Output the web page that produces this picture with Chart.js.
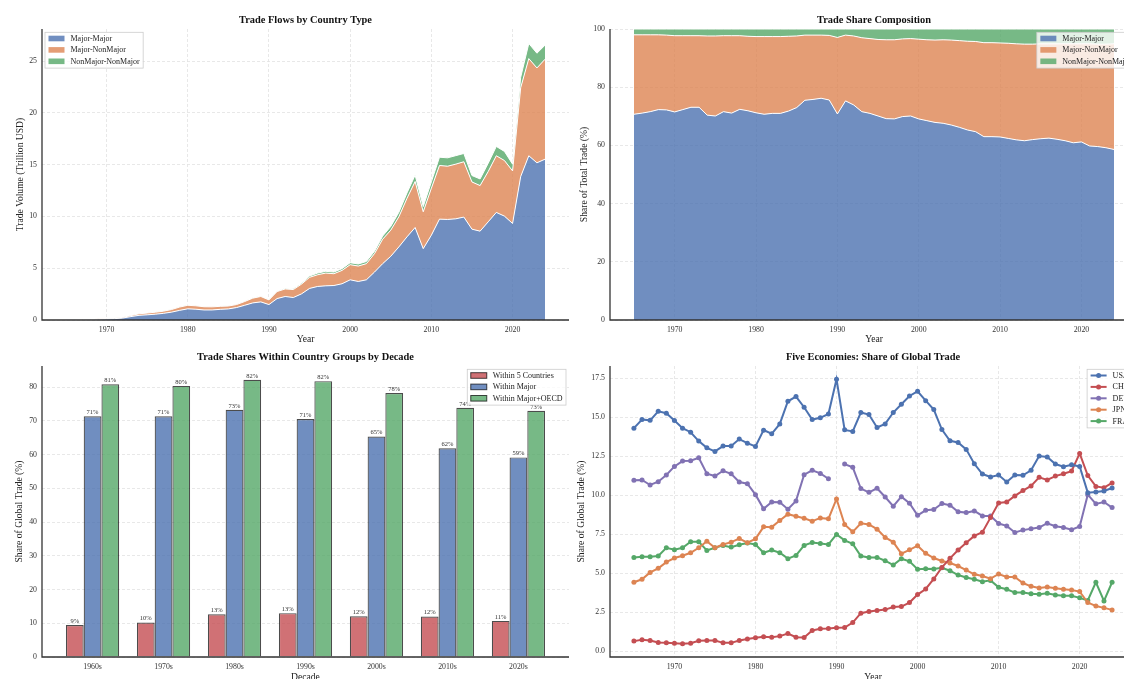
<!DOCTYPE html>
<html>
<head>
<meta charset="utf-8">
<script src="https://cdn.jsdelivr.net/npm/chart.js@4.4.1/dist/chart.umd.min.js"></script>
<style>
  html, body { margin: 0; padding: 0; background: #fff; overflow: hidden; }
  #page { position: relative; width: 1124px; height: 679px; overflow: hidden; background: #fff; }
  canvas { position: absolute; }
</style>
</head>
<body>
<div id="page">
  <canvas id="flows" width="575" height="345" style="left:0;top:0"></canvas>
  <canvas id="shares" width="575" height="345" style="left:565px;top:0"></canvas>
  <canvas id="groups" width="575" height="345" style="left:0;top:342px"></canvas>
  <canvas id="five" width="575" height="345" style="left:565px;top:342px"></canvas>
</div>
<script>
// --- data ---
const years = [1965,1966,1967,1968,1969,1970,1971,1972,1973,1974,
  1975,1976,1977,1978,1979,1980,1981,1982,1983,1984,
  1985,1986,1987,1988,1989,1990,1991,1992,1993,1994,
  1995,1996,1997,1998,1999,2000,2001,2002,2003,2004,
  2005,2006,2007,2008,2009,2010,2011,2012,2013,2014,
  2015,2016,2017,2018,2019,2020,2021,2022,2023,2024];

// trade volume, trillion USD
const flowMM = [0.03,0.04,0.05,0.06,0.08,0.10,0.13,0.19,0.33,0.45,
  0.50,0.56,0.64,0.76,0.93,1.08,1.04,0.97,0.97,1.03,
  1.07,1.20,1.42,1.65,1.75,1.49,2.07,2.27,2.17,2.52,
  3.05,3.24,3.30,3.33,3.50,3.88,3.72,3.88,4.63,5.44,
  6.15,7.06,8.03,8.93,6.89,8.19,9.74,9.71,9.77,9.94,
  8.77,8.58,9.48,10.39,10.03,9.32,13.85,15.86,15.18,15.53];
const flowMN = [0.01,0.01,0.02,0.02,0.03,0.04,0.05,0.07,0.10,0.15,
  0.17,0.19,0.21,0.25,0.32,0.34,0.33,0.31,0.30,0.29,
  0.28,0.29,0.36,0.46,0.52,0.45,0.68,0.73,0.77,0.94,
  1.07,1.13,1.23,1.14,1.29,1.46,1.49,1.56,1.78,2.36,
  2.52,2.91,3.72,4.44,3.56,4.53,5.18,5.14,5.28,5.34,
  4.56,4.40,4.86,5.47,5.37,5.08,8.58,9.38,9.16,9.65];
const flowNN = [0.001,0.001,0.002,0.002,0.002,0.003,0.004,0.005,0.01,0.01,
  0.015,0.015,0.02,0.02,0.025,0.035,0.035,0.035,0.035,0.035,
  0.035,0.03,0.04,0.04,0.045,0.05,0.06,0.07,0.08,0.10,
  0.13,0.16,0.17,0.16,0.17,0.19,0.20,0.21,0.24,0.30,
  0.37,0.43,0.52,0.62,0.50,0.62,0.80,0.81,0.82,0.80,
  0.62,0.64,0.80,0.90,0.88,0.65,1.00,1.46,1.42,1.36];

// share of total trade, %
const shareMM = [70.7,71.1,71.6,72.3,72.2,71.5,72.3,73.1,73.1,70.4,
  70.1,71.6,71.1,72.4,71.9,71.2,70.7,71.0,71.0,71.8,
  73.0,75.5,75.8,76.2,75.6,70.8,75.3,73.9,71.6,71.0,
  70.1,69.2,69.1,69.9,70.1,69.1,68.5,67.9,67.6,67.0,
  66.2,65.3,64.7,63.0,63.0,62.9,62.4,61.9,61.6,62.0,
  62.3,62.5,62.1,61.6,60.9,61.2,59.8,59.6,59.2,58.6];
const shareMN = [27.3,26.9,26.4,25.7,25.7,26.2,25.4,24.6,24.6,27.2,
  27.5,26.1,26.6,25.3,25.6,26.2,26.7,26.4,26.4,25.7,
  24.6,22.4,22.1,21.7,22.2,26.3,22.6,23.7,25.4,25.7,
  26.3,27.1,27.2,26.7,26.6,27.4,27.8,28.3,28.7,29.2,
  29.8,30.5,31.0,32.3,32.3,32.3,32.7,33.0,33.2,32.8,
  32.6,32.4,32.8,33.3,34.0,33.7,35.1,35.2,35.6,36.3];
const shareNN = [2.0,2.0,2.0,2.0,2.1,2.3,2.3,2.3,2.3,2.4,
  2.4,2.3,2.3,2.3,2.5,2.6,2.6,2.6,2.6,2.5,
  2.4,2.1,2.1,2.1,2.2,2.9,2.1,2.4,3.0,3.3,
  3.6,3.7,3.7,3.4,3.3,3.5,3.7,3.8,3.7,3.8,
  4.0,4.2,4.3,4.7,4.7,4.8,4.9,5.1,5.2,5.2,
  5.1,5.1,5.1,5.1,5.1,5.1,5.1,5.2,5.2,5.1];

// decade group shares, %
const decades = ['1960s','1970s','1980s','1990s','2000s','2010s','2020s'];
const within5 = [9.46,10.25,12.7,13.0,12.1,12.0,10.7];
const withinMajor = [71.4,71.4,73.3,70.6,65.4,61.9,59.2];
const withinOECD = [80.9,80.4,82.2,81.8,78.3,73.9,73.0];

// five economies, share of global trade %
const usa = [14.30,14.85,14.80,15.38,15.26,14.79,14.30,14.04,13.47,13.04,
  12.81,13.15,13.15,13.60,13.34,13.13,14.17,13.94,14.57,16.02,
  16.32,15.64,14.85,14.96,15.21,17.43,14.19,14.09,15.30,15.17,
  14.34,14.57,15.30,15.83,16.36,16.66,16.06,15.49,14.21,13.49,
  13.38,12.94,12.02,11.36,11.17,11.30,10.85,11.30,11.28,11.60,
  12.51,12.45,12.00,11.83,11.96,11.85,10.17,10.21,10.28,10.47];
const chn = [0.66,0.74,0.70,0.57,0.55,0.53,0.49,0.53,0.68,0.70,
  0.70,0.55,0.55,0.70,0.79,0.87,0.94,0.91,0.98,1.15,
  0.91,0.89,1.34,1.45,1.47,1.52,1.53,1.85,2.45,2.55,
  2.62,2.68,2.85,2.87,3.13,3.64,4.00,4.64,5.38,5.96,
  6.49,6.96,7.40,7.64,8.57,9.51,9.57,9.96,10.30,10.60,
  11.15,10.98,11.23,11.38,11.55,12.68,11.26,10.57,10.49,10.79];
const deu = [10.96,10.98,10.66,10.87,11.30,11.85,12.19,12.21,12.40,11.38,
  11.23,11.57,11.38,10.85,10.74,10.04,9.13,9.57,9.55,9.11,
  9.64,11.32,11.60,11.40,11.06,null,12.00,11.79,10.43,10.19,
  10.45,9.89,9.30,9.91,9.49,8.72,9.04,9.09,9.47,9.36,
  8.94,8.89,9.00,8.68,8.68,8.19,8.04,7.62,7.77,7.85,
  7.94,8.21,8.02,7.94,7.79,8.00,10.04,9.45,9.57,9.21];
const jpn = [4.43,4.62,5.06,5.32,5.72,5.98,6.13,6.32,6.64,7.06,
  6.64,6.85,7.00,7.23,6.96,7.21,7.98,7.96,8.38,8.79,
  8.66,8.53,8.34,8.55,8.49,9.77,8.13,7.66,8.21,8.13,
  7.83,7.30,7.00,6.26,6.51,6.77,6.28,5.98,5.79,5.66,
  5.47,5.21,4.94,4.83,4.66,4.96,4.77,4.77,4.38,4.17,
  4.06,4.13,4.04,3.98,3.94,3.83,3.13,2.91,2.79,2.66];
const fra = [6.02,6.06,6.06,6.11,6.64,6.51,6.64,7.02,7.02,6.47,
  6.64,6.79,6.68,6.83,6.94,6.85,6.32,6.49,6.32,5.94,
  6.15,6.79,6.98,6.91,6.85,7.49,7.11,6.89,6.11,6.02,
  6.02,5.81,5.53,5.94,5.77,5.26,5.30,5.28,5.36,5.17,
  4.89,4.74,4.62,4.47,4.55,4.11,3.98,3.77,3.77,3.70,
  3.66,3.72,3.62,3.57,3.57,3.43,3.26,4.43,3.23,4.43];

// tick labels
const yearTicks = [1970,1980,1990,2000,2010,2020];
const volumeTicks = [0,5,10,15,20,25];
const shareTicks = [0,20,40,60,80,100];
const barTicks = [0,10,20,30,40,50,60,70,80];
const lineTicks = [0,2.5,5,7.5,10,12.5,15,17.5];

// --- style ---
const BLUE = '#4C72B0', ORANGE = '#DD8452', GREEN = '#55A868', RED = '#C44E52', PURPLE = '#8172B3';
const fade = hex => {
  const n = parseInt(hex.slice(1), 16);
  return `rgba(${n >> 16},${(n >> 8) & 255},${n & 255},0.8)`;
};

Chart.defaults.font.family = '"Liberation Serif", "DejaVu Serif", serif';
Chart.defaults.color = '#333';
Chart.defaults.animation = false;
Chart.defaults.plugins.legend.display = false;
Chart.defaults.plugins.tooltip.enabled = false;

const GRID = { color: '#e2e2e2', lineWidth: 0.8, drawTicks: false };
const BORDER = { display: false, dash: [3, 2] };
const TICKFONT = { size: 7.8 };
const AXISFONT = { size: 9.6 };

// panel title above the plot area
const panelTitle = {
  id: 'panelTitle',
  afterDraw(chart, args, o) {
    const { ctx, chartArea: a } = chart;
    ctx.save();
    ctx.font = 'bold 10.4px "Liberation Serif"';
    ctx.fillStyle = '#111';
    ctx.textAlign = 'center';
    ctx.textBaseline = 'middle';
    ctx.fillText(o.text, (a.left + a.right) / 2, a.top - 9);
    ctx.restore();
  }
};

// left + bottom axis lines on top of the data
const spines = {
  id: 'spines',
  afterDatasetsDraw(chart) {
    const { ctx, chartArea: a } = chart;
    ctx.save();
    ctx.strokeStyle = '#333';
    ctx.lineWidth = 1.3;
    ctx.beginPath();
    ctx.moveTo(a.left, a.top);
    ctx.lineTo(a.left, a.bottom);
    ctx.lineTo(a.right, a.bottom);
    ctx.stroke();
    ctx.restore();
  }
};

// matplotlib style legend box inside the plot
const boxLegend = {
  id: 'boxLegend',
  afterDraw(chart, args, o) {
    const { ctx, chartArea: a } = chart;
    const sets = chart.data.datasets;
    ctx.save();
    ctx.font = '8px "Liberation Serif"';
    const tw = Math.max(...sets.map(d => ctx.measureText(d.label).width));
    const row = 11.4, handle = 16;
    const w = 3.5 + handle + 6 + tw + 3.5;
    const h = 6.2 + row * (sets.length - 1) + 6.8;
    const x = o.align === 'right' ? a.right - 3 - w : a.left + 3;
    const y = a.top + 3.3;
    ctx.fillStyle = 'rgba(255,255,255,0.8)';
    ctx.fillRect(x, y, w, h);
    ctx.strokeStyle = '#cccccc';
    ctx.lineWidth = 0.8;
    ctx.strokeRect(x, y, w, h);
    sets.forEach((d, i) => {
      const cy = y + 6.2 + i * row;
      const hx = x + 3.5;
      if (o.kind === 'line') {
        ctx.strokeStyle = d.borderColor;
        ctx.lineWidth = 2;
        ctx.beginPath();
        ctx.moveTo(hx, cy);
        ctx.lineTo(hx + handle, cy);
        ctx.stroke();
        ctx.fillStyle = d.borderColor;
        ctx.beginPath();
        ctx.arc(hx + handle / 2, cy, 2.5, 0, Math.PI * 2);
        ctx.fill();
      } else {
        ctx.fillStyle = d.backgroundColor;
        ctx.fillRect(hx, cy - 2.8, handle, 5.6);
        if (o.kind === 'bar') {
          ctx.strokeStyle = d.borderColor;
          ctx.lineWidth = 1;
          ctx.strokeRect(hx, cy - 2.8, handle, 5.6);
        }
      }
      ctx.fillStyle = '#222';
      ctx.textAlign = 'left';
      ctx.textBaseline = 'middle';
      ctx.fillText(d.label, hx + handle + 6, cy + 0.5);
    });
    ctx.restore();
  }
};

// percent labels above the bars
const barLabels = {
  id: 'barLabels',
  afterDatasetsDraw(chart) {
    const ctx = chart.ctx;
    ctx.save();
    ctx.font = '6.5px "Liberation Serif"';
    ctx.fillStyle = '#333';
    ctx.textAlign = 'center';
    ctx.textBaseline = 'bottom';
    chart.data.datasets.forEach((ds, di) => {
      chart.getDatasetMeta(di).data.forEach((el, i) => {
        ctx.fillText(ds.data[i].y.toFixed(0) + '%', el.x, el.y - 0.5);
      });
    });
    ctx.restore();
  }
};

function yearAxis(height, titlePad) {
  return {
    type: 'linear', min: 1962.05, max: 2026.95,
    afterFit: s => { s.height = height; },
    afterBuildTicks: s => { s.ticks = yearTicks.map(v => ({ value: v })); },
    ticks: { padding: 5, font: TICKFONT, color: '#333', maxRotation: 0, autoSkip: false, callback: v => String(v) },
    grid: GRID, border: BORDER,
    title: { display: true, text: 'Year', font: AXISFONT, color: '#222', padding: { top: 0, bottom: titlePad } }
  };
}

function valueAxis(width, min, max, ticks, fmt, title, titlePad, stacked) {
  return {
    type: 'linear', min, max, stacked: !!stacked,
    afterFit: s => { s.width = width; },
    afterBuildTicks: s => { s.ticks = ticks.map(v => ({ value: v })); },
    ticks: { padding: 5, font: TICKFONT, color: '#333', callback: fmt },
    grid: GRID, border: BORDER,
    title: { display: true, text: title, font: AXISFONT, color: '#222', padding: { top: titlePad, bottom: 0 } }
  };
}

function area(label, values, color, fill) {
  return {
    label, fill,
    data: values.map((v, i) => ({ x: years[i], y: v })),
    backgroundColor: fade(color), borderColor: '#ffffff', borderWidth: 1,
    pointRadius: 0, tension: 0
  };
}

function series(label, values, color) {
  return {
    label,
    data: values.map((v, i) => ({ x: years[i], y: v })),
    borderColor: color, backgroundColor: color, borderWidth: 2,
    pointRadius: 2.5, pointBorderWidth: 0, pointBackgroundColor: color,
    spanGaps: false, fill: false, tension: 0
  };
}

function bars(label, values, color) {
  return {
    label,
    data: values.map((v, i) => ({ x: i, y: v })),
    backgroundColor: fade(color), borderColor: 'rgba(0,0,0,0.7)', borderWidth: 1.2
  };
}

// --- top left: stacked volumes ---
new Chart(document.getElementById('flows'), {
  type: 'line',
  data: {
    datasets: [
      area('Major-Major', flowMM, BLUE, 'origin'),
      area('Major-NonMajor', flowMN, ORANGE, '-1'),
      area('NonMajor-NonMajor', flowNN, GREEN, '-1')
    ]
  },
  options: {
    responsive: false,
    layout: { padding: { top: 29, right: 6, left: 0, bottom: 0 } },
    scales: {
      x: yearAxis(25, 0),
      y: valueAxis(42, 0, 28.1, volumeTicks, v => String(v), 'Trade Volume (Trillion USD)', 15, true)
    },
    plugins: {
      panelTitle: { text: 'Trade Flows by Country Type' },
      boxLegend: { align: 'left', kind: 'patch' }
    }
  },
  plugins: [panelTitle, spines, boxLegend]
});

// --- top right: share composition ---
new Chart(document.getElementById('shares'), {
  type: 'line',
  data: {
    datasets: [
      area('Major-Major', shareMM, BLUE, 'origin'),
      area('Major-NonMajor', shareMN, ORANGE, '-1'),
      area('NonMajor-NonMajor', shareNN, GREEN, '-1')
    ]
  },
  options: {
    responsive: false,
    layout: { padding: { top: 29, right: 2, left: 0, bottom: 0 } },
    scales: {
      x: yearAxis(25, 0),
      y: valueAxis(45, 0, 100, shareTicks, v => String(v), 'Share of Total Trade (%)', 14, true)
    },
    plugins: {
      panelTitle: { text: 'Trade Share Composition' },
      boxLegend: { align: 'right', kind: 'patch' }
    }
  },
  plugins: [panelTitle, spines, boxLegend]
});

// --- bottom left: grouped bars by decade ---
new Chart(document.getElementById('groups'), {
  type: 'bar',
  data: {
    datasets: [
      bars('Within 5 Countries', within5, RED),
      bars('Within Major', withinMajor, BLUE),
      bars('Within Major+OECD', withinOECD, GREEN)
    ]
  },
  options: {
    responsive: false,
    datasets: { bar: { categoryPercentage: 0.75, barPercentage: 1 } },
    layout: { padding: { top: 24, right: 6, left: 0, bottom: 0 } },
    scales: {
      x: {
        type: 'linear', min: -0.7125, max: 6.7125, offset: false,
        afterFit: s => { s.height = 30; },
        afterBuildTicks: s => { s.ticks = decades.map((d, i) => ({ value: i })); },
        ticks: { padding: 5, font: TICKFONT, color: '#333', maxRotation: 0, autoSkip: false, callback: v => decades[v] },
        grid: { display: false, drawTicks: false, offset: false }, border: BORDER,
        title: { display: true, text: 'Decade', font: AXISFONT, color: '#222', padding: { top: 0, bottom: 4 } }
      },
      y: valueAxis(42, 0, 86.3, barTicks, v => String(v), 'Share of Global Trade (%)', 14, false)
    },
    plugins: {
      panelTitle: { text: 'Trade Shares Within Country Groups by Decade' },
      boxLegend: { align: 'right', kind: 'bar' }
    }
  },
  plugins: [panelTitle, barLabels, spines, boxLegend]
});

// --- bottom right: five economies ---
new Chart(document.getElementById('five'), {
  type: 'line',
  data: {
    datasets: [
      series('USA', usa, BLUE),
      series('CHN', chn, RED),
      series('DEU', deu, PURPLE),
      series('JPN', jpn, ORANGE),
      series('FRA', fra, GREEN)
    ]
  },
  options: {
    responsive: false,
    layout: { padding: { top: 24, right: 2, left: 0, bottom: 0 } },
    scales: {
      x: yearAxis(30, 4),
      y: valueAxis(45, -0.357, 18.28, lineTicks, v => v.toFixed(1), 'Share of Global Trade (%)', 11, false)
    },
    plugins: {
      panelTitle: { text: 'Five Economies: Share of Global Trade' },
      boxLegend: { align: 'right', kind: 'line' }
    }
  },
  plugins: [panelTitle, spines, boxLegend]
});
</script>
</body>
</html>
